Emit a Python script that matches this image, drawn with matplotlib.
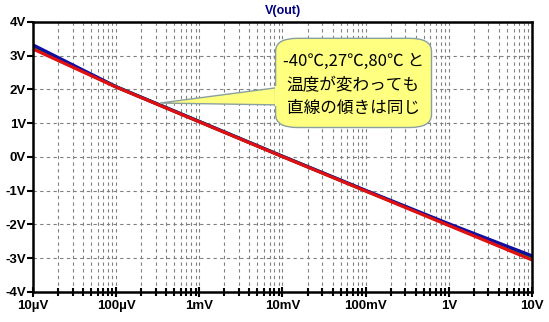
import numpy as np
import matplotlib
matplotlib.use('Agg')
import matplotlib.pyplot as plt
from matplotlib.patches import FancyBboxPatch, Polygon
from matplotlib.ticker import LogLocator, NullFormatter

# Sweep points (input voltage) and output at three temperatures
vin = [1e-5, 1e-4, 1e-3, 1e-2, 1e-1, 1.0, 10.0]
vout_m40 = [3.32, 2.08, 1.05, 0.02, -0.99, -1.98, -2.93]
vout_27 = [3.26, 2.08, 1.05, 0.02, -1.00, -2.00, -2.98]
vout_80 = [3.20, 2.07, 1.04, 0.01, -1.01, -2.03, -3.05]

x_ticks = [1e-5, 1e-4, 1e-3, 1e-2, 1e-1, 1.0, 10.0]
x_labels = ['10µV', '100µV', '1mV', '10mV', '100mV', '1V', '10V']
y_ticks = [-4, -3, -2, -1, 0, 1, 2, 3, 4]
y_labels = ['-4V', '-3V', '-2V', '-1V', '0V', '1V', '2V', '3V', '4V']

note_lines = ['-40℃,27℃,80℃ と', '温度が変わっても', '直線の傾きは同じ']

fig = plt.figure(figsize=(5.49, 3.22), dpi=100)
ax = fig.add_axes([0.0601, 0.0932, 0.9089, 0.8385])

ax.plot(vin, vout_27, color='#00a000', lw=2.4, solid_capstyle='butt')
ax.plot(vin, vout_m40, color='#1010a0', lw=2.4, solid_capstyle='butt')
ax.plot(vin, vout_80, color='#e01010', lw=2.3, solid_capstyle='butt')

ax.set_xscale('log')
ax.set_xlim(1e-5, 10)
ax.set_ylim(-4, 4)
ax.set_xticks(x_ticks)
ax.set_xticklabels(x_labels)
ax.xaxis.set_minor_locator(LogLocator(base=10, subs=np.arange(2, 10)))
ax.xaxis.set_minor_formatter(NullFormatter())
ax.set_yticks(y_ticks)
ax.set_yticklabels(y_labels)

for lab in ax.get_xticklabels() + ax.get_yticklabels():
    lab.set_fontfamily('Liberation Sans')
    lab.set_fontweight('bold')
    lab.set_fontsize(9.5)

ax.tick_params(axis='x', which='major', direction='inout', length=7, width=1.5, pad=2)
ax.tick_params(axis='x', which='minor', direction='inout', length=6, width=1.5)
ax.tick_params(axis='y', which='major', direction='out', length=4, width=1.5, pad=1)

ax.grid(True, which='both', axis='x', color='#808080', ls=(0, (3, 3)), lw=0.8)
ax.grid(True, which='major', axis='y', color='#808080', ls=(0, (3, 3)), lw=0.8)
for sp in ax.spines.values():
    sp.set_linewidth(1.8)

fig.text(0.515, 0.965, 'V(out)', ha='center', va='center', color='#000080',
         fontsize=9, fontweight='bold', family='Liberation Sans')

# Callout balloon
tail = Polygon([(0.2914, 0.680), (0.515, 0.730), (0.515, 0.674)],
               closed=True, transform=fig.transFigure, facecolor='#ffff80',
               edgecolor='#8aa0a0', lw=1.0, zorder=5)
fig.add_artist(tail)
box = FancyBboxPatch((0.518, 0.620), 0.252, 0.245,
                     boxstyle='round,pad=0.016,rounding_size=0.04',
                     transform=fig.transFigure, facecolor='#ffff80',
                     edgecolor='#8aa0a0', lw=1.0, zorder=6)
fig.add_artist(box)
# cover the tail seam inside the balloon
seam = Polygon([(0.50, 0.733), (0.53, 0.733), (0.53, 0.670), (0.50, 0.670)],
               closed=True, transform=fig.transFigure, facecolor='#ffff80',
               edgecolor='none', zorder=7)
fig.add_artist(seam)

for i, line in enumerate(note_lines):
    fig.text(0.643, 0.808 - i * 0.073, line, ha='center', va='center',
             fontsize=12, family=['Noto Sans CJK JP', 'DejaVu Sans'], zorder=8)

fig.savefig('out.png', dpi=100)
